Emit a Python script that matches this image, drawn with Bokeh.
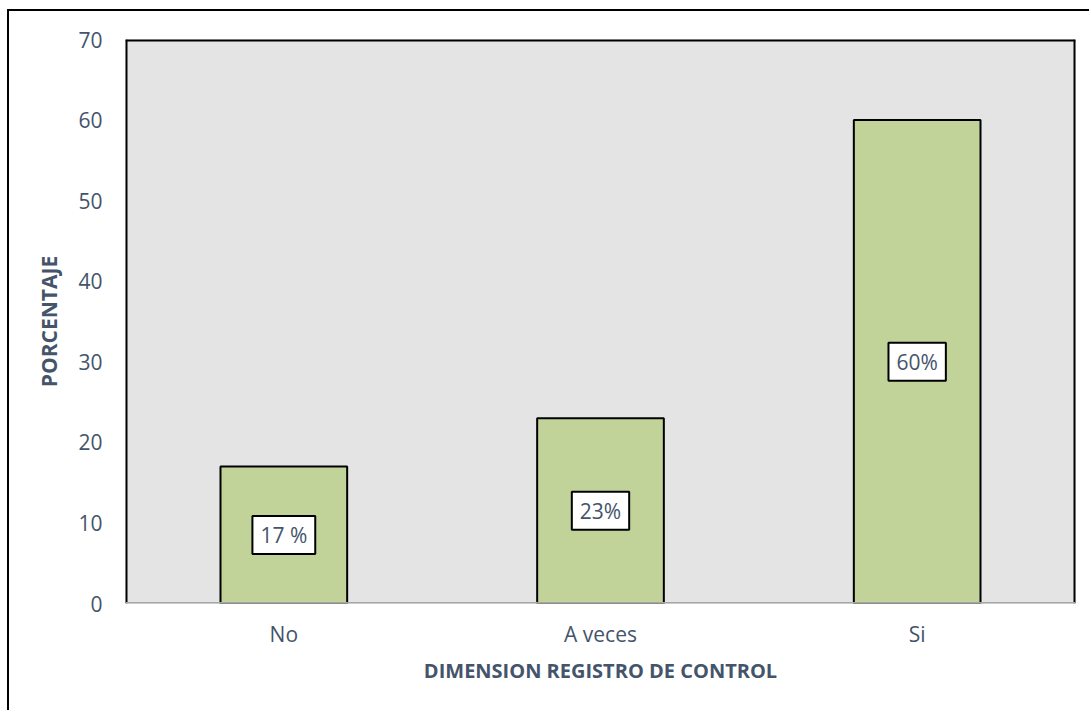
from bokeh.plotting import figure
from bokeh.models import FactorRange, Range1d, FixedTicker, Label, Span
from bokeh.embed import file_html
from bokeh.resources import INLINE

# Survey results: "Registro de control" dimension
categories = ["No", "A veces", "Si"]
percentages = [17, 23, 60]
value_labels = ["17 %", "23%", "60%"]
y_ticks = [0, 10, 20, 30, 40, 50, 60, 70]

TEXT = "#44546A"
FONT = "Open Sans"

x_range = FactorRange(*categories, range_padding=0)
p = figure(
    x_range=x_range,
    y_range=Range1d(0, 70),
    width=1082, height=701,
    output_backend="svg", toolbar_location=None,
    min_border_left=116, min_border_right=16,
    min_border_top=28, min_border_bottom=109,
)
# Chart frame: black rule on the left and top edges of the page block
p.styles = {
    "margin-left": "7px", "margin-top": "9px",
    "border-left": "2px solid black", "border-top": "2px solid black",
}
p.background_fill_color = "#E4E4E4"
p.border_fill_color = "white"
p.outline_line_color = None
p.grid.visible = False

p.vbar(x=categories, top=percentages, width=0.4,
       fill_color="#C2D39A", line_color="black", line_width=2)

# Plot-area border: black on three sides, gray baseline at zero
n = len(categories)
p.add_layout(Span(location=0, dimension="height", line_color="black", line_width=4, level="overlay"))
p.add_layout(Span(location=n, dimension="height", line_color="black", line_width=4, level="overlay"))
p.add_layout(Span(location=70, dimension="width", line_color="black", line_width=4, level="overlay"))
p.add_layout(Span(location=0, dimension="width", line_color="#A6A6A6", line_width=3, level="overlay"))

# Boxed value labels centred inside each bar (factor i sits at i + 0.5
# in the range's synthetic coordinates)
for i, (val, txt) in enumerate(zip(percentages, value_labels)):
    p.add_layout(Label(
        x=i + 0.5, y=val / 2, text=txt,
        text_align="center", text_baseline="middle",
        text_font=FONT, text_font_size="21px", text_color=TEXT,
        background_fill_color="white",
        border_line_color="black", border_line_width=2,
        padding=(8, 5),
    ))

# Y axis
yax = p.yaxis[0]
yax.ticker = FixedTicker(ticks=y_ticks)
yax.axis_line_color = None
yax.major_tick_line_color = None
yax.minor_tick_line_color = None
yax.major_tick_out = 0
yax.major_label_standoff = 23
yax.major_label_text_font = FONT
yax.major_label_text_font_size = "21px"
yax.major_label_text_color = TEXT
yax.axis_label = "PORCENTAJE"
yax.axis_label_text_font = FONT
yax.axis_label_text_font_style = "bold"
yax.axis_label_text_font_size = "21px"
yax.axis_label_text_color = TEXT
yax.axis_label_standoff = 12

# X axis
xax = p.xaxis[0]
xax.axis_line_color = None
xax.major_tick_line_color = None
xax.minor_tick_line_color = None
xax.major_tick_out = 0
xax.major_label_standoff = 16
xax.major_label_text_font = FONT
xax.major_label_text_font_size = "21px"
xax.major_label_text_color = TEXT
xax.axis_label = "DIMENSION REGISTRO DE CONTROL"
xax.axis_label_text_font = FONT
xax.axis_label_text_font_style = "bold"
xax.axis_label_text_font_size = "20px"
xax.axis_label_text_color = TEXT
xax.axis_label_standoff = 6

open("out.html", "w").write(file_html(p, INLINE))
